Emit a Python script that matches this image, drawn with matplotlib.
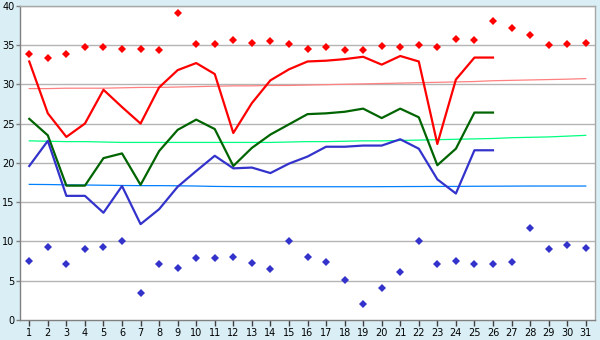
import matplotlib
matplotlib.use("Agg")
import matplotlib.pyplot as plt

days = list(range(1, 32))

max_points = [33.9, 33.3, 33.8, 34.7, 34.7, 34.55, 34.55, 34.3, 39.1, 35.1,
              35.1, 35.6, 35.3, 35.45, 35.1, 34.55, 34.7, 34.4, 34.4, 34.9,
              34.7, 35.0, 34.8, 35.8, 35.6, 38.1, 37.2, 36.3, 35.0, 35.1, 35.3]
min_points = [7.47, 9.25, 7.08, 8.99, 9.25, 10.0, 3.39, 7.08, 6.57, 7.85,
              7.85, 7.97, 7.2, 6.44, 10.0, 7.97, 7.34, 5.05, 2.0, 4.03,
              6.06, 10.0, 7.08, 7.47, 7.08, 7.08, 7.34, 11.66, 8.99, 9.5, 9.12]

line_days = list(range(1, 27))
max_line = [32.9, 26.3, 23.3, 25.0, 29.3, 27.1, 25.0, 29.6, 31.8, 32.7,
            31.3, 23.8, 27.6, 30.5, 31.9, 32.9, 33.0, 33.2, 33.5, 32.5,
            33.6, 32.9, 22.4, 30.6, 33.4, 33.4]
mean_line = [25.6, 23.5, 17.1, 17.1, 20.6, 21.2, 17.2, 21.5, 24.2, 25.5,
             24.3, 19.6, 21.9, 23.6, 24.9, 26.2, 26.3, 26.5, 26.9, 25.7,
             26.9, 25.8, 19.7, 21.8, 26.4, 26.4]
min_line = [19.6, 22.8, 15.8, 15.8, 13.65, 17.05, 12.2, 14.1, 16.96, 18.96,
            20.9, 19.3, 19.4, 18.7, 19.9, 20.8, 22.05, 22.05, 22.2, 22.2,
            23.0, 21.8, 17.9, 16.1, 21.6, 21.6]

normal_max = [29.45, 29.45, 29.5, 29.5, 29.5, 29.55, 29.6, 29.6, 29.65, 29.7,
              29.75, 29.8, 29.8, 29.85, 29.85, 29.9, 29.95, 30.0, 30.05, 30.1,
              30.15, 30.2, 30.25, 30.3, 30.35, 30.45, 30.5, 30.55, 30.6, 30.65, 30.72]
normal_mean = [22.8, 22.75, 22.7, 22.7, 22.65, 22.6, 22.6, 22.6, 22.6, 22.6,
               22.6, 22.6, 22.6, 22.6, 22.65, 22.7, 22.7, 22.75, 22.8, 22.8,
               22.85, 22.9, 22.95, 23.0, 23.05, 23.1, 23.2, 23.25, 23.3, 23.4, 23.5]
normal_min = [17.26, 17.24, 17.2, 17.18, 17.15, 17.12, 17.1, 17.1, 17.08, 17.05,
              17.0, 16.98, 16.97, 16.96, 16.96, 16.96, 16.96, 16.96, 16.96, 16.97,
              16.98, 16.99, 17.0, 17.0, 17.02, 17.03, 17.04, 17.05, 17.05, 17.05, 17.05]

y_ticks = list(range(0, 41, 5))

bg = "#D9EEF5"
fig = plt.figure(figsize=(6.0, 3.4), dpi=100, facecolor=bg)
ax = fig.add_axes([20/600, 20/340, 575/600, 314.3/340])
ax.set_facecolor("white")

for y in y_ticks[1:]:
    ax.axhline(y, color="#B4B4B4", lw=1.0, zorder=1)

ax.plot(days, normal_max, color="#FF8080", lw=0.9, zorder=2)
ax.plot(days, normal_mean, color="#00FF80", lw=0.9, zorder=2)
ax.plot(days, normal_min, color="#0080FF", lw=0.9, zorder=2)

ax.plot(line_days, max_line, color="#FF0000", lw=1.6, zorder=3)
ax.plot(line_days, mean_line, color="#006400", lw=1.6, zorder=3)
ax.plot(line_days, min_line, color="#3333CC", lw=1.6, zorder=3)

ax.plot(days, max_points, ls="none", marker="D", ms=4.0, color="#FF0000",
        mew=0, zorder=4)
ax.plot(days, min_points, ls="none", marker="D", ms=4.0, color="#3333CC",
        mew=0, zorder=4)

ax.set_xlim(0.5, 31.5)
ax.set_ylim(0, 40)
ax.set_xticks(days)
ax.set_xticklabels([str(d) for d in days])
ax.set_yticks(y_ticks)
ax.set_yticklabels([str(v) for v in y_ticks])
ax.tick_params(axis="both", labelsize=7, colors="black", width=1,
               direction="out")
ax.tick_params(axis="x", color="#404040", length=4, pad=2)
ax.tick_params(axis="y", color="#808080", length=3, pad=1)
for s in ax.spines.values():
    s.set_color("#A8A8A8")
    s.set_linewidth(1.0)
ax.spines["left"].set_color("#808080")
ax.spines["bottom"].set_color("#808080")

fig.savefig("out.png", dpi=100, facecolor=bg)
